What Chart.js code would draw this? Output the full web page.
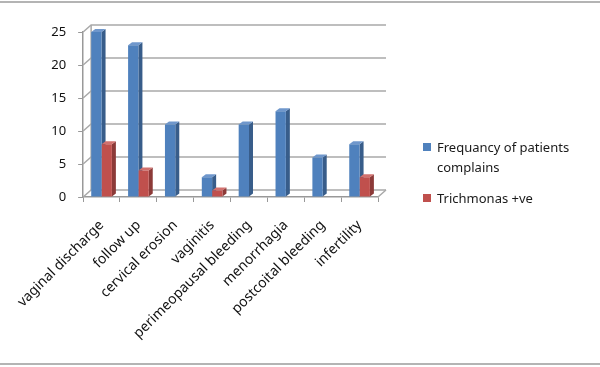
<!DOCTYPE html>
<html>
<head>
<meta charset="utf-8">
<title>Complaints chart</title>
<script src="https://cdn.jsdelivr.net/npm/chart.js@4/dist/chart.umd.min.js"></script>
<style>
  html, body { margin: 0; padding: 0; background: #fff; }
  #wrap { width: 600px; height: 367px; position: relative; }
</style>
</head>
<body>
<div id="wrap"><canvas id="chart" width="600" height="367"></canvas></div>
<script>
// categories and values
const categories = ['vaginal discharge', 'follow up', 'cervical erosion', 'vaginitis',
  'perimeopausal bleeding', 'menorrhagia', 'postcoital bleeding', 'infertility'];
const complaints = [25, 23, 11, 3, 11, 13, 6, 8];
const trichomonas = [8, 4, 0, 1, 0, 0, 0, 3];
const seriesNames = ['Frequancy of patients complains', 'Trichmonas +ve'];
const yTicks = [0, 5, 10, 15, 20, 25];

const FONT = '"Noto Sans", "Open Sans", sans-serif';
const fronts = ['#4f81bd', '#c0504d'];
const sides = ['#385d8a', '#8c3a38'];
const tops = ['#6f97cc', '#d2716e'];

// back wall + gridlines, drawn before the bars
const wallPlugin = {
  id: 'wall',
  beforeDatasetsDraw(chart) {
    const { ctx, chartArea: a, scales: { y } } = chart;
    const dx = 8, dy = -7;
    ctx.save();
    ctx.strokeStyle = '#a9a9a9';
    ctx.lineWidth = 1.5;
    yTicks.forEach(v => {
      const py = y.getPixelForValue(v);
      ctx.beginPath();
      ctx.moveTo(a.left, py);
      ctx.lineTo(a.left + dx, py + dy);
      ctx.lineTo(a.right + dx, py + dy);
      ctx.stroke();
    });
    ctx.beginPath();
    ctx.moveTo(a.left + dx, y.getPixelForValue(25) + dy);
    ctx.lineTo(a.left + dx, a.bottom + dy);
    ctx.moveTo(a.right, a.bottom);
    ctx.lineTo(a.right + dx, a.bottom + dy);
    ctx.stroke();

    // 3D side and top faces of each bar
    const d = 4, h = -3;
    chart.getSortedVisibleDatasetMetas().forEach(meta => {
      const i = meta.index;
      meta.data.forEach(bar => {
        const { x, y: top, base, width } = bar.getProps(['x', 'y', 'base', 'width'], true);
        if (base - top < 0.5) return;
        const r = x + width / 2, l = x - width / 2;
        ctx.fillStyle = sides[i];
        ctx.beginPath();
        ctx.moveTo(r, top); ctx.lineTo(r + d, top + h);
        ctx.lineTo(r + d, base + h); ctx.lineTo(r, base);
        ctx.closePath(); ctx.fill();
        ctx.fillStyle = tops[i];
        ctx.beginPath();
        ctx.moveTo(l, top); ctx.lineTo(l + d, top + h);
        ctx.lineTo(r + d, top + h); ctx.lineTo(r, top);
        ctx.closePath(); ctx.fill();
      });
    });
    ctx.restore();
  },
  afterDraw(chart) {
    const { ctx } = chart;
    ctx.save();
    // frame lines
    ctx.strokeStyle = '#b4b4b4';
    ctx.lineWidth = 2;
    ctx.beginPath();
    ctx.moveTo(0, 2); ctx.lineTo(600, 2);
    ctx.moveTo(0, 364); ctx.lineTo(600, 364);
    ctx.stroke();
    // legend
    ctx.font = '13px ' + FONT;
    ctx.textBaseline = 'middle';
    ctx.fillStyle = fronts[0];
    ctx.fillRect(423, 143, 8, 8);
    ctx.fillStyle = fronts[1];
    ctx.fillRect(423, 194, 8, 8);
    ctx.fillStyle = '#1a1a1a';
    ctx.fillText('Frequancy of patients', 437, 148);
    ctx.fillText('complains', 437, 168);
    ctx.fillText(seriesNames[1], 437, 199);
    ctx.restore();
  }
};

new Chart(document.getElementById('chart'), {
  type: 'bar',
  data: {
    labels: categories,
    datasets: [
      { label: seriesNames[0], data: complaints, backgroundColor: fronts[0] },
      { label: seriesNames[1], data: trichomonas, backgroundColor: fronts[1] }
    ]
  },
  options: {
    responsive: false,
    animation: false,
    layout: { padding: { top: 32, right: 222, left: 0, bottom: 0 } },
    datasets: { bar: { categoryPercentage: 0.56, barPercentage: 1 } },
    plugins: { legend: { display: false }, tooltip: { enabled: false } },
    scales: {
      x: {
        grid: { drawOnChartArea: false, tickLength: 5, color: '#999', offset: true },
        border: { color: '#999', width: 1.5 },
        ticks: { minRotation: 45, maxRotation: 45, color: '#111', font: { family: FONT, size: 14 }, padding: 15 },
        afterFit(scale) { scale.height = 170; }
      },
      y: {
        min: 0, max: 25,
        grid: { drawOnChartArea: false, tickLength: 5, color: '#999' },
        border: { color: '#999', width: 1.5 },
        ticks: { stepSize: 5, color: '#111', font: { family: FONT, size: 13 }, padding: 12 },
        afterFit(scale) { scale.width = 81; }
      }
    }
  },
  plugins: [wallPlugin]
});
</script>
</body>
</html>
